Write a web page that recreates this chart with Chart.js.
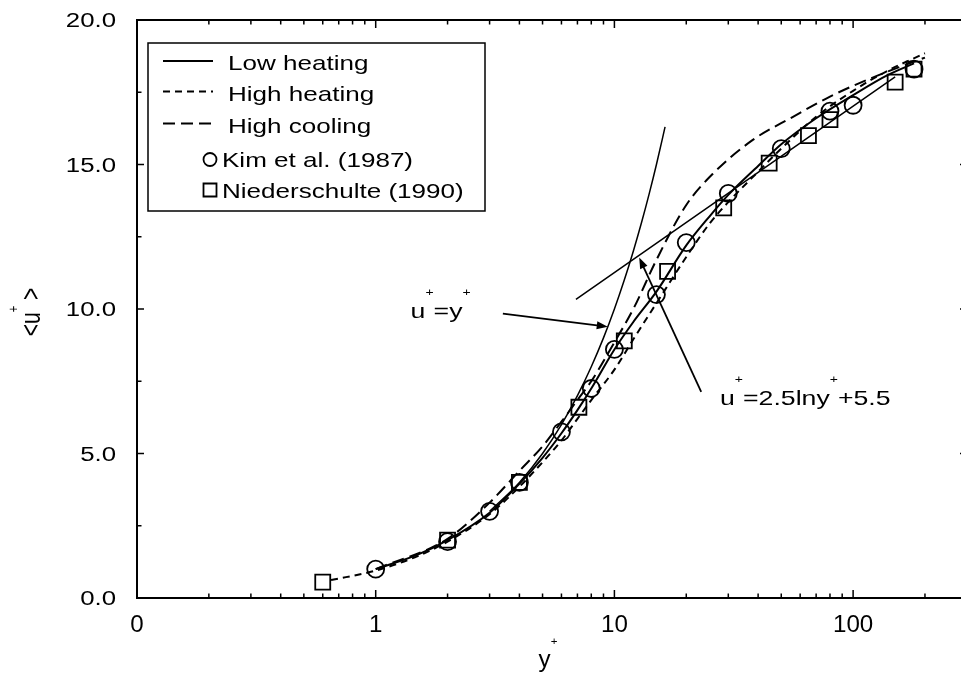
<!DOCTYPE html>
<html>
<head>
<meta charset="utf-8">
<script src="https://cdn.jsdelivr.net/npm/chart.js@4.4.1/dist/chart.umd.min.js"></script>
<style>
  html, body { margin: 0; padding: 0; background: #fff; overflow: hidden; }
  #wrap { width: 972px; height: 674px; }
  canvas { display: block; width: 972px; height: 674px; }
</style>
</head>
<body>
<div id="wrap"><canvas id="profile" width="972" height="674"></canvas></div>
<script>
// Mean streamwise velocity <u+> against wall distance y+

// Model profiles
const lowHeatingY  = [1, 1.5, 2, 3, 4, 5, 6, 7, 8, 10, 12, 15, 20, 25, 30, 40, 50, 70, 100, 140, 180];
const lowHeatingU  = [1.0, 1.5, 2.0, 2.95, 3.95, 4.85, 5.7, 6.5, 7.25, 8.6, 9.55, 10.6, 12.2, 13.2, 13.95, 14.95, 15.7, 16.6, 17.4, 18.1, 18.5];

const highHeatingY = [0.65, 1, 1.5, 2, 3, 4, 5, 6, 7, 8, 10, 12, 15, 20, 25, 30, 40, 50, 70, 100, 140, 200];
const highHeatingU = [0.62, 0.95, 1.45, 1.95, 2.9, 3.85, 4.7, 5.45, 6.2, 6.85, 7.9, 8.95, 10.2, 11.8, 12.95, 13.7, 14.75, 15.55, 16.65, 17.55, 18.25, 18.85];

const highCoolingY = [1, 2, 3, 4, 5, 6, 7, 8, 10, 12, 15, 20, 26, 38, 56, 80, 120, 200];
const highCoolingU = [1.0, 2.05, 3.3, 4.4, 5.25, 6.1, 6.85, 7.5, 8.85, 10.0, 11.7, 13.6, 14.7, 15.85, 16.65, 17.35, 18.0, 18.7];

// Reference data
const kimY  = [1, 2, 3, 4, 6, 8, 10, 15, 20, 30, 50, 80, 100, 180];
const kimU  = [1.0, 1.95, 3.0, 4.0, 5.75, 7.25, 8.6, 10.5, 12.3, 14.0, 15.55, 16.85, 17.05, 18.3];

const niedY = [0.6, 2, 4, 7.1, 11, 16.7, 28.7, 44.5, 65, 80, 150, 180];
const niedU = [0.55, 2.0, 4.0, 6.6, 8.9, 11.3, 13.5, 15.05, 16.0, 16.55, 17.85, 18.3];

// Viscous sublayer u+ = y+ and log law u+ = 2.5 ln y+ + 5.5
const sublayerY = [3, 4, 5, 6, 7, 8, 9, 10, 11, 12, 13, 14, 15, 16.3];
const sublayerU = [3, 4, 5, 6, 7, 8, 9, 10, 11, 12, 13, 14, 15, 16.3];
const logLawY   = [6.9, 150];
const logLawU   = [10.33, 18.03];

// Pointer arrows (tail, head) in data units
const sublayerArrowY = [3.41, 9.38];
const sublayerArrowU = [9.84, 9.39];
const logLawArrowY   = [23.1, 12.7];
const logLawArrowU   = [7.13, 11.78];

// Axis ticks
const xTickValues = [0.1, 1, 10, 100];
const xTickLabels = ['0', '1', '10', '100'];
const yTickValues = [0, 5, 10, 15, 20];
const yTickLabels = ['0.0', '5.0', '10.0', '15.0', '20.0'];
const yMinorTicks = [2.5, 7.5, 12.5, 17.5];

const FONT = "'Liberation Sans', Arial, Helvetica, sans-serif";

const pts = (xs, ys) => xs.map((v, i) => ({ x: v, y: ys[i] }));

// Draws a run of text segments (superscripts raised and smaller), stretched horizontally by sx
function richText(ctx, segs, x, y, size, sx, align, supDy) {
  const supSize = 11;
  const lift = supDy === undefined ? -22 : supDy;
  let total = 0;
  const widths = segs.map(s => {
    ctx.font = (s.sup ? supSize : size) + 'px ' + FONT;
    const w = ctx.measureText(s.t).width;
    total += w;
    return w;
  });
  let start = x;
  if (align === 'center') start = x - total * sx / 2;
  else if (align === 'right') start = x - total * sx;
  let acc = 0;
  segs.forEach((s, i) => {
    ctx.save();
    ctx.font = (s.sup ? supSize : size) + 'px ' + FONT;
    ctx.textAlign = 'left';
    ctx.textBaseline = 'alphabetic';
    ctx.translate(start + acc * sx, y + (s.sup ? lift : 0));
    ctx.scale(sx, 1);
    ctx.fillText(s.t, 0, 0);
    ctx.restore();
    acc += widths[i];
  });
}

function arrow(ctx, x0, y0, x1, y1) {
  const ang = Math.atan2(y1 - y0, x1 - x0);
  const len = 11, half = 4;
  ctx.beginPath();
  ctx.moveTo(x0, y0);
  ctx.lineTo(x1 - Math.cos(ang) * len * 0.8, y1 - Math.sin(ang) * len * 0.8);
  ctx.stroke();
  ctx.beginPath();
  ctx.moveTo(x1, y1);
  ctx.lineTo(x1 - Math.cos(ang) * len + Math.sin(ang) * half, y1 - Math.sin(ang) * len - Math.cos(ang) * half);
  ctx.lineTo(x1 - Math.cos(ang) * len - Math.sin(ang) * half, y1 - Math.sin(ang) * len + Math.cos(ang) * half);
  ctx.closePath();
  ctx.fill();
}

const annotations = {
  sublayer: { y: 1.4, u: 9.7, segs: [{ t: 'u' }, { t: '+', sup: true }, { t: '=y' }, { t: '+', sup: true }] },
  logLaw:   { y: 27.7, u: 6.68, segs: [{ t: 'u' }, { t: '+', sup: true }, { t: '=2.5lny' }, { t: '+', sup: true }, { t: '+5.5' }] }
};

// Frame, inward ticks, tick labels, axis titles, arrows and equations
const axesAndNotes = {
  id: 'axesAndNotes',
  afterDatasetsDraw(chart) {
    const { ctx, chartArea: a, scales: { x, y } } = chart;
    ctx.save();
    ctx.strokeStyle = '#000';
    ctx.fillStyle = '#000';
    ctx.lineCap = 'butt';

    // frame
    ctx.lineWidth = 2;
    ctx.strokeRect(a.left, a.top, a.right - a.left, a.bottom - a.top);

    // x ticks (bottom and top, pointing inward)
    ctx.lineWidth = 1.5;
    const xMinor = [];
    xTickValues.forEach(d => {
      for (let m = 2; m <= 9; m++) {
        if (d * m < x.max) xMinor.push(d * m);
      }
    });
    const tickX = (v, len) => {
      const px = x.getPixelForValue(v);
      ctx.beginPath();
      ctx.moveTo(px, a.bottom); ctx.lineTo(px, a.bottom - len);
      ctx.moveTo(px, a.top); ctx.lineTo(px, a.top + len);
      ctx.stroke();
    };
    xTickValues.forEach(v => tickX(v, 8));
    xMinor.forEach(v => tickX(v, 4.5));

    // y ticks (left and right, pointing inward)
    const tickY = (v, len) => {
      const py = y.getPixelForValue(v);
      ctx.beginPath();
      ctx.moveTo(a.left, py); ctx.lineTo(a.left + len, py);
      ctx.moveTo(a.right, py); ctx.lineTo(a.right - len, py);
      ctx.stroke();
    };
    yTickValues.forEach(v => tickY(v, 7));
    yMinorTicks.forEach(v => tickY(v, 4.5));

    // tick labels
    xTickValues.forEach((v, i) => {
      richText(ctx, [{ t: xTickLabels[i] }], x.getPixelForValue(v), a.bottom + 34, 23, 1.05, 'center');
    });
    yTickValues.forEach((v, i) => {
      richText(ctx, [{ t: yTickLabels[i] }], a.left - 21, y.getPixelForValue(v) + 7, 20, 1.29, 'right');
    });

    // axis titles
    richText(ctx, [{ t: 'y' }, { t: '+', sup: true }], (a.left + a.right) / 2 - 4, a.bottom + 69, 23, 1.05, 'center');
    ctx.save();
    ctx.translate(33, (a.top + a.bottom) / 2 + 3);
    ctx.scale(1.3, 1);
    ctx.rotate(-Math.PI / 2);
    richText(ctx, [{ t: '<u' }, { t: '+', sup: true }, { t: ' >' }], 0, 5.5, 21, 1, 'center', -17);
    ctx.restore();

    // arrows
    ctx.lineWidth = 1.8;
    arrow(ctx,
      x.getPixelForValue(sublayerArrowY[0]), y.getPixelForValue(sublayerArrowU[0]),
      x.getPixelForValue(sublayerArrowY[1]), y.getPixelForValue(sublayerArrowU[1]));
    arrow(ctx,
      x.getPixelForValue(logLawArrowY[0]), y.getPixelForValue(logLawArrowU[0]),
      x.getPixelForValue(logLawArrowY[1]), y.getPixelForValue(logLawArrowU[1]));

    // equations
    Object.values(annotations).forEach(n => {
      richText(ctx, n.segs, x.getPixelForValue(n.y), y.getPixelForValue(n.u), 21, 1.27, 'left');
    });
    ctx.restore();
  }
};

// Boxed legend in the upper-left corner of the plot
const boxedLegend = {
  id: 'boxedLegend',
  afterDatasetsDraw(chart) {
    const { ctx } = chart;
    const ds = chart.data.datasets;
    ctx.save();
    ctx.fillStyle = '#fff';
    ctx.fillRect(148, 43, 337, 168);
    ctx.strokeStyle = '#000';
    ctx.lineWidth = 1.5;
    ctx.strokeRect(148, 43, 337, 168);
    ctx.fillStyle = '#000';
    const rows = [62.5, 93, 125, 159.5, 190];
    rows.forEach((ry, i) => {
      const d = ds[i];
      if (d.showLine) {
        ctx.save();
        ctx.lineWidth = d.borderWidth;
        ctx.setLineDash(d.borderDash || []);
        ctx.beginPath();
        ctx.moveTo(163, ry - 1.5);
        ctx.lineTo(213, ry - 1.5);
        ctx.stroke();
        ctx.restore();
        richText(ctx, [{ t: d.label }], 228, ry + 7.5, 21, 1.24, 'left');
      } else {
        ctx.save();
        ctx.lineWidth = 1.8;
        ctx.beginPath();
        if (d.pointStyle === 'circle') ctx.arc(210, ry, 6.5, 0, Math.PI * 2);
        else ctx.rect(203.5, ry - 6.5, 13, 13);
        ctx.stroke();
        ctx.restore();
        richText(ctx, [{ t: d.label }], 222, ry + 7.5, 21, 1.24, 'left');
      }
    });
    ctx.restore();
  }
};

const curve = (label, xs, ys, dash) => ({
  label, data: pts(xs, ys), showLine: true, borderColor: '#000', borderWidth: 2,
  borderDash: dash, pointRadius: 0, cubicInterpolationMode: 'monotone', fill: false
});

const markers = (label, xs, ys, style, r) => ({
  label, data: pts(xs, ys), showLine: false, pointStyle: style, pointRadius: r,
  pointBorderWidth: 1.8, pointBorderColor: '#000', pointBackgroundColor: 'rgba(0,0,0,0)'
});

const thin = (label, xs, ys) => ({
  label, data: pts(xs, ys), showLine: true, borderColor: '#000', borderWidth: 1.5,
  pointRadius: 0, cubicInterpolationMode: 'monotone', fill: false
});

new Chart(document.getElementById('profile'), {
  type: 'scatter',
  data: {
    datasets: [
      curve('Low heating', lowHeatingY, lowHeatingU, []),
      curve('High heating', highHeatingY, highHeatingU, [7, 5]),
      curve('High cooling', highCoolingY, highCoolingU, [12, 6]),
      markers('Kim et al. (1987)', kimY, kimU, 'circle', 8.5),
      markers('Niederschulte (1990)', niedY, niedU, 'rect', 10.6),
      thin('u+=y+', sublayerY, sublayerU),
      thin('u+=2.5lny+ +5.5', logLawY, logLawU)
    ]
  },
  options: {
    responsive: false,
    animation: false,
    devicePixelRatio: 1,
    // the right-hand frame edge sits just past the visible part of the page
    layout: { autoPadding: false, padding: { left: 137, top: 20, right: 5, bottom: 76 } },
    plugins: { legend: { display: false }, tooltip: { enabled: false } },
    scales: {
      x: { type: 'logarithmic', min: 0.1, max: 300, display: false },
      y: { type: 'linear', min: 0, max: 20, display: false }
    }
  },
  plugins: [axesAndNotes, boxedLegend]
});
</script>
</body>
</html>
